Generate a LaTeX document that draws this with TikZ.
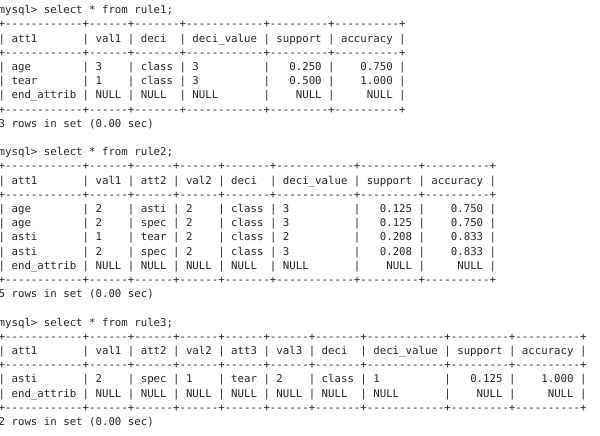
\documentclass[tikz,border=0pt]{standalone}
\usepackage{fontspec}
\setmonofont{DejaVu Sans Mono}
\newcommand\conline[3]{\node[conl] (#1) at (-1.5,{11.5+14.2*#2}) {#3};}
\begin{document}
\begin{tikzpicture}[x=1pt,y=-1pt,
  conl/.style={anchor=mid west, inner sep=0pt, text=black!85,
    font=\ttfamily\fontsize{10.73}{14.2}\selectfont}]
\useasboundingbox[fill=white] (0,0) rectangle (600,436);
% rule1
\conline{a0}{0}{mysql>~select~*~from~rule1;}
\conline{a1}{1}{+------------+------+-------+------------+---------+----------+}
\conline{a2}{2}{|~att1~~~~~~~|~val1~|~deci~~|~deci\_value~|~support~|~accuracy~|}
\conline{a3}{3}{+------------+------+-------+------------+---------+----------+}
\conline{a4}{4}{|~age~~~~~~~~|~3~~~~|~class~|~3~~~~~~~~~~|~~~0.250~|~~~~0.750~|}
\conline{a5}{5}{|~tear~~~~~~~|~1~~~~|~class~|~3~~~~~~~~~~|~~~0.500~|~~~~1.000~|}
\conline{a6}{6}{|~end\_attrib~|~NULL~|~NULL~~|~NULL~~~~~~~|~~~~NULL~|~~~~~NULL~|}
\conline{a7}{7}{+------------+------+-------+------------+---------+----------+}
\conline{a8}{8}{3~rows~in~set~(0.00~sec)}
% rule2
\conline{b0}{10}{mysql>~select~*~from~rule2;}
\conline{b1}{11}{+------------+------+------+------+-------+------------+---------+----------+}
\conline{b2}{12}{|~att1~~~~~~~|~val1~|~att2~|~val2~|~deci~~|~deci\_value~|~support~|~accuracy~|}
\conline{b3}{13}{+------------+------+------+------+-------+------------+---------+----------+}
\conline{b4}{14}{|~age~~~~~~~~|~2~~~~|~asti~|~2~~~~|~class~|~3~~~~~~~~~~|~~~0.125~|~~~~0.750~|}
\conline{b5}{15}{|~age~~~~~~~~|~2~~~~|~spec~|~2~~~~|~class~|~3~~~~~~~~~~|~~~0.125~|~~~~0.750~|}
\conline{b6}{16}{|~asti~~~~~~~|~1~~~~|~tear~|~2~~~~|~class~|~2~~~~~~~~~~|~~~0.208~|~~~~0.833~|}
\conline{b7}{17}{|~asti~~~~~~~|~2~~~~|~spec~|~2~~~~|~class~|~3~~~~~~~~~~|~~~0.208~|~~~~0.833~|}
\conline{b8}{18}{|~end\_attrib~|~NULL~|~NULL~|~NULL~|~NULL~~|~NULL~~~~~~~|~~~~NULL~|~~~~~NULL~|}
\conline{b9}{19}{+------------+------+------+------+-------+------------+---------+----------+}
\conline{b10}{20}{5~rows~in~set~(0.00~sec)}
% rule3
\conline{c0}{22}{mysql>~select~*~from~rule3;}
\conline{c1}{23}{+------------+------+------+------+------+------+-------+------------+---------+----------+}
\conline{c2}{24}{|~att1~~~~~~~|~val1~|~att2~|~val2~|~att3~|~val3~|~deci~~|~deci\_value~|~support~|~accuracy~|}
\conline{c3}{25}{+------------+------+------+------+------+------+-------+------------+---------+----------+}
\conline{c4}{26}{|~asti~~~~~~~|~2~~~~|~spec~|~1~~~~|~tear~|~2~~~~|~class~|~1~~~~~~~~~~|~~~0.125~|~~~~1.000~|}
\conline{c5}{27}{|~end\_attrib~|~NULL~|~NULL~|~NULL~|~NULL~|~NULL~|~NULL~~|~NULL~~~~~~~|~~~~NULL~|~~~~~NULL~|}
\conline{c6}{28}{+------------+------+------+------+------+------+-------+------------+---------+----------+}
\conline{c7}{29}{2~rows~in~set~(0.00~sec)}
\end{tikzpicture}
\end{document}
